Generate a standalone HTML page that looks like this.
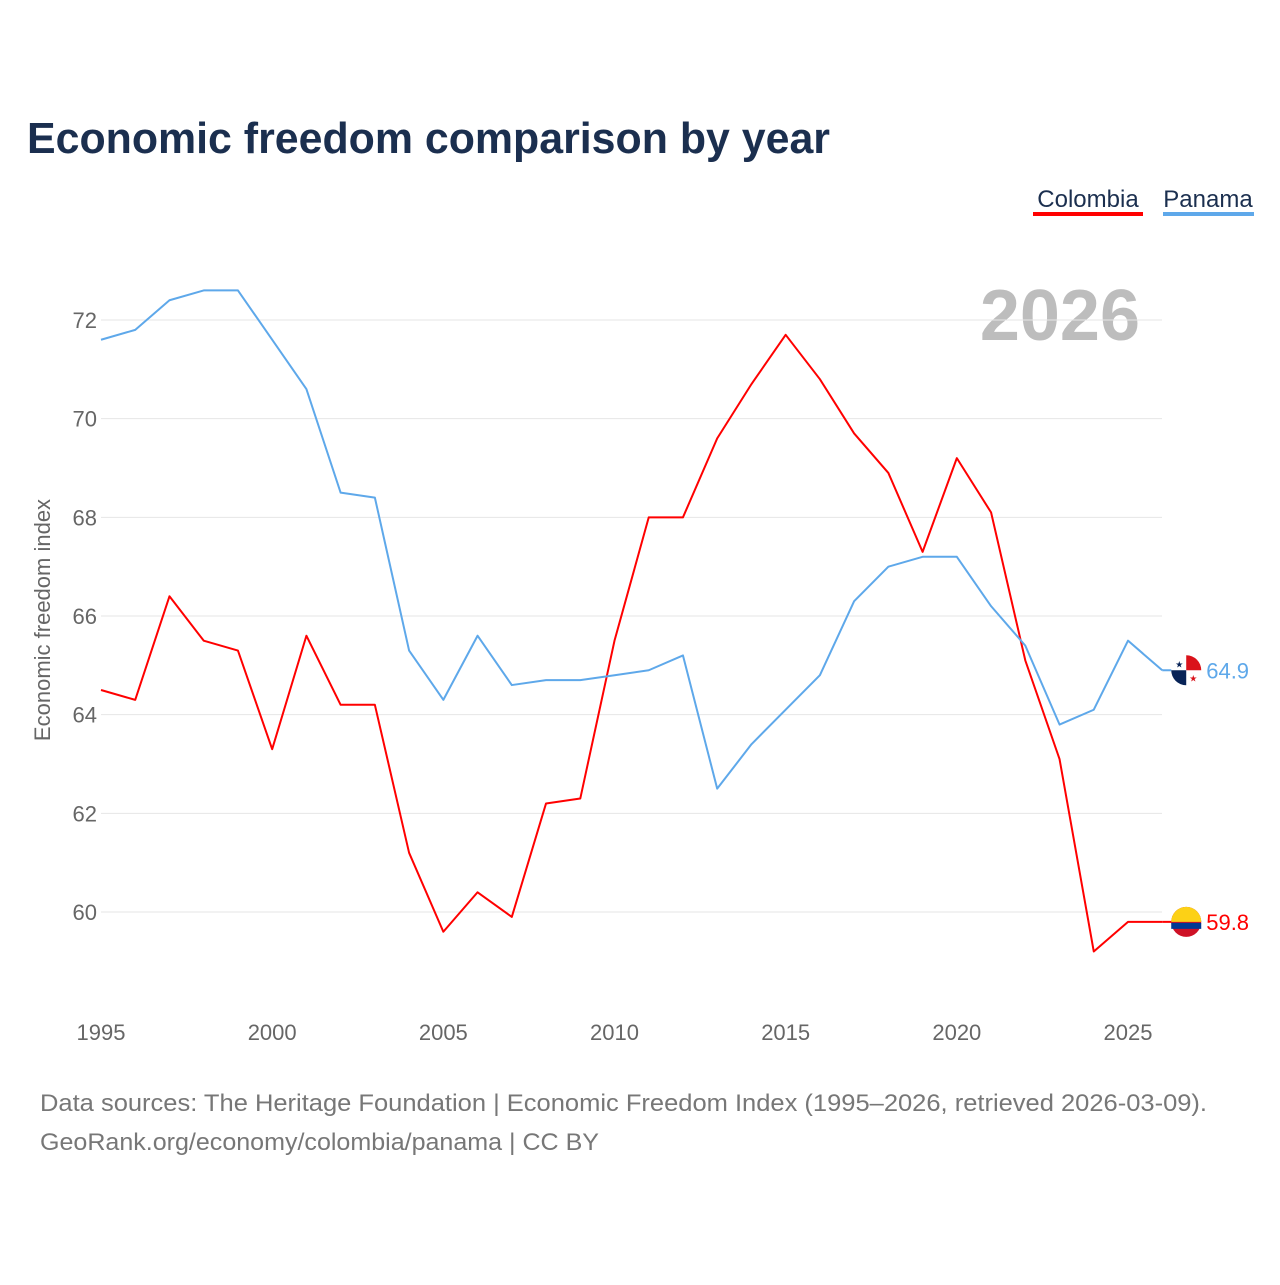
<!DOCTYPE html>
<html><head><meta charset="utf-8"><style>
body{margin:0;background:#fff;width:1280px;height:1280px;overflow:hidden;font-family:"Liberation Sans",sans-serif}
</style></head><body>
<svg id="chart" width="1280" height="1280" xmlns="http://www.w3.org/2000/svg" font-family="Liberation Sans, sans-serif">
<text x="27" y="153" font-size="44" font-weight="bold" fill="#1b2f4f" textLength="803" lengthAdjust="spacingAndGlyphs">Economic freedom comparison by year</text>
<g><text x="1088" y="207" font-size="24" fill="#1b2f4f" text-anchor="middle">Colombia</text><rect x="1033" y="212" width="110" height="4" fill="#ff0000"/></g>
<g><text x="1208" y="207" font-size="24" fill="#1b2f4f" text-anchor="middle">Panama</text><rect x="1163" y="212" width="91" height="4" fill="#5ea8ea"/></g>
<text x="1140" y="340" font-size="72" font-weight="bold" fill="#bdbdbd" text-anchor="end">2026</text>
<text transform="translate(50,620) rotate(-90)" font-size="22" fill="#666" text-anchor="middle">Economic freedom index</text>
<g id="grid"></g><g id="series"></g>
<text x="40" y="1111" font-size="24" fill="#777" textLength="1167" lengthAdjust="spacingAndGlyphs">Data sources: The Heritage Foundation | Economic Freedom Index (1995–2026, retrieved 2026-03-09).</text>
<text x="40" y="1150" font-size="24" fill="#777" textLength="559" lengthAdjust="spacingAndGlyphs">GeoRank.org/economy/colombia/panama | CC BY</text>
</svg>
<script>
const years=[];for(let y=1995;y<=2026;y++)years.push(y);
const colombia=[64.5,64.3,66.4,65.5,65.3,63.3,65.6,64.2,64.2,61.2,59.6,60.4,59.9,62.2,62.3,65.5,68.0,68.0,69.6,70.7,71.7,70.8,69.7,68.9,67.3,69.2,68.1,65.1,63.1,59.2,59.8,59.8];
const panama=[71.6,71.8,72.4,72.6,72.6,71.6,70.6,68.5,68.4,65.3,64.3,65.6,64.6,64.7,64.7,64.8,64.9,65.2,62.5,63.4,64.1,64.8,66.3,67.0,67.2,67.2,66.2,65.4,63.8,64.1,65.5,64.9];
const yTicks=[60,62,64,66,68,70,72];
const xTicks=[1995,2000,2005,2010,2015,2020,2025];
const NS="http://www.w3.org/2000/svg";
const xs=y=>101+(y-1995)*(1027/30);
const ys=v=>912-(v-60)*(592/12);
function mk(t,a,p){const e=document.createElementNS(NS,t);for(const k in a)e.setAttribute(k,a[k]);p.appendChild(e);return e;}
const grid=document.getElementById('grid'),ser=document.getElementById('series');
yTicks.forEach(v=>{
 const l=mk('line',{x1:101,x2:1162,y1:ys(v),y2:ys(v),stroke:'#e6e6e6','stroke-width':1},grid);
 
 
 const t=mk('text',{x:97,y:ys(v)+8,'font-size':22,fill:'#666','text-anchor':'end'},grid);t.textContent=v;
 
 
});
xTicks.forEach(v=>{
 const t=mk('text',{x:xs(v),y:1040,'font-size':22,fill:'#666','text-anchor':'middle'},grid);t.textContent=v;
 
 
});
function line(data,color,name,flag){
 const p=mk('polyline',{points:data.map((v,i)=>xs(years[i])+','+ys(v)).join(' '),fill:'none',stroke:color,'stroke-width':2,'stroke-linejoin':'round'},ser);
 
 
 const last=data[data.length-1],lx=xs(years[years.length-1]),ly=ys(last);
 mk('line',{x1:lx,x2:lx+14,y1:ly,y2:ly,stroke:color,'stroke-width':2},ser);
 const g=mk('g',{},ser);
 
 
 const cx=lx+24;
 if(flag==='co'){
  mk('circle',{cx:cx,cy:ly,r:15,fill:'#ce1126'},g);
  mk('path',{d:`M${cx-15},${ly} A15,15 0 0 1 ${cx+15},${ly} Z`,fill:'#fcd116'},g);
  mk('rect',{x:cx-15,y:ly+1,width:30,height:6,fill:'#003893'},g);
 }else{
  mk('circle',{cx:cx,cy:ly,r:15,fill:'#fff'},g);
  mk('path',{d:`M${cx},${ly} L${cx+15},${ly} A15,15 0 0 0 ${cx},${ly-15} Z`,fill:'#da121a'},g);
  mk('path',{d:`M${cx},${ly} L${cx-15},${ly} A15,15 0 0 0 ${cx},${ly+15} Z`,fill:'#072357'},g);
  const s1=mk('text',{x:cx-7,y:ly-3,'font-size':9,fill:'#072357','text-anchor':'middle'},g);s1.textContent='★';
  const s2=mk('text',{x:cx+7,y:ly+11,'font-size':9,fill:'#da121a','text-anchor':'middle'},g);s2.textContent='★';
 }
 const t=mk('text',{x:lx+44,y:ly+8,'font-size':22,fill:color},ser);t.textContent=last.toFixed(1);
 
 
}
line(colombia,'#ff0000','colombia','co');
line(panama,'#5ea8ea','panama','pa');
</script>
</body></html>
